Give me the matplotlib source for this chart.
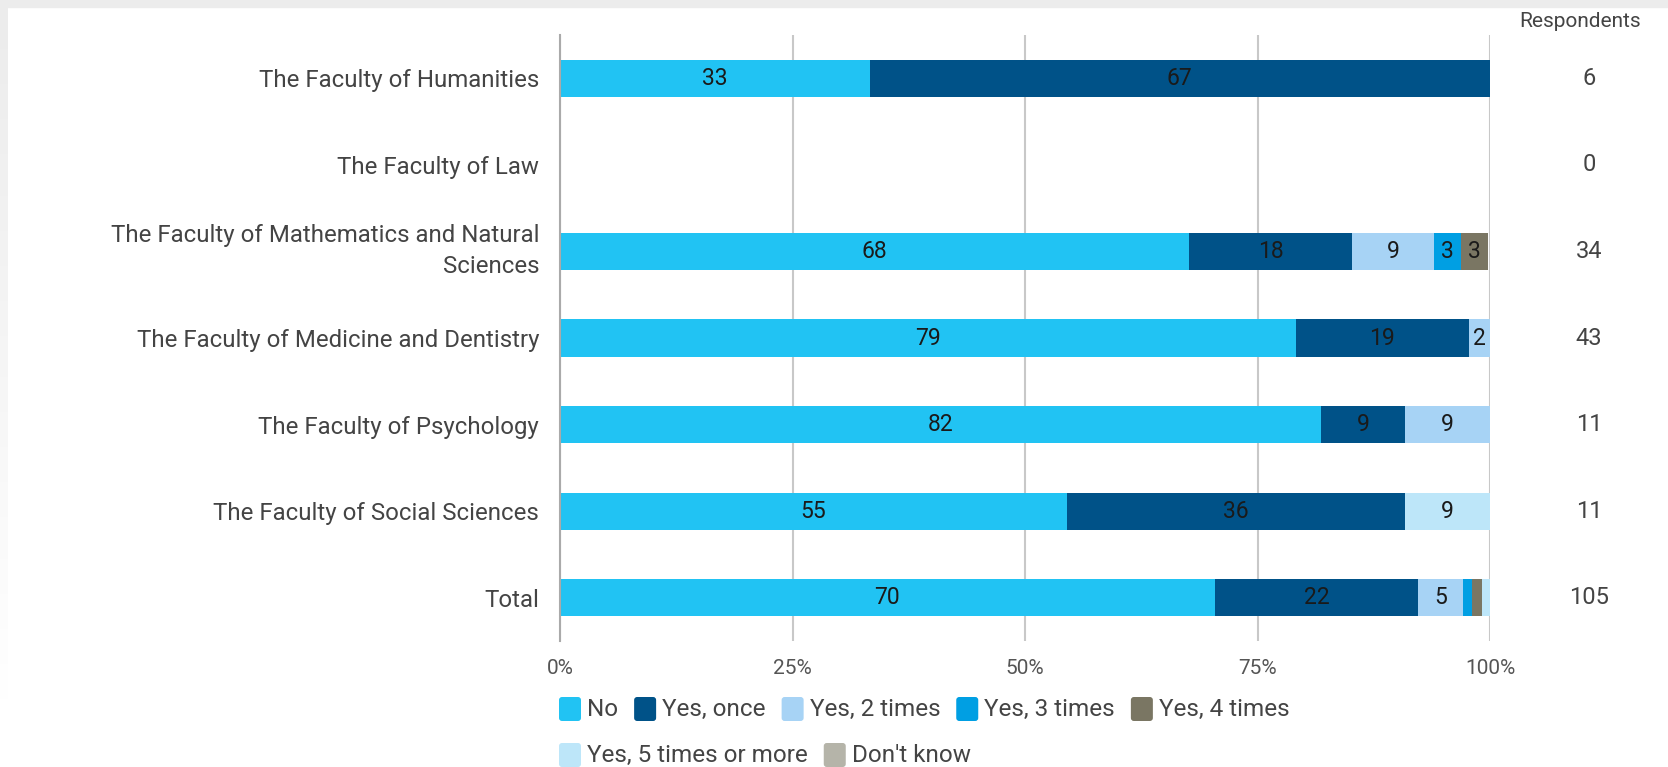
import matplotlib.pyplot as plt
import numpy as np
from matplotlib.patches import FancyBboxPatch
from matplotlib.transforms import IdentityTransform
from matplotlib.colors import LinearSegmentedColormap

plt.rcParams['font.family'] = ['Roboto', 'DejaVu Sans']

faculties = ["The Faculty of Humanities", "The Faculty of Law",
             "The Faculty of Mathematics and Natural\nSciences",
             "The Faculty of Medicine and Dentistry", "The Faculty of Psychology",
             "The Faculty of Social Sciences", "Total"]
respondents = [6, 0, 34, 43, 11, 11, 105]

answers = ["No", "Yes, once", "Yes, 2 times", "Yes, 3 times", "Yes, 4 times",
           "Yes, 5 times or more", "Don't know"]
colors = ["#21c3f3", "#005288", "#a7d3f5", "#009fe3", "#7a7663", "#bde6f9", "#b5b4a9"]

# percent of respondents per faculty, one list per answer
no_pct       = [33.3, 0, 67.6, 79.1, 81.8, 54.5, 70.4]
once_pct     = [66.7, 0, 17.6, 18.6, 9.1, 36.4, 21.9]
two_pct      = [0, 0, 8.8, 2.3, 9.1, 0, 4.8]
three_pct    = [0, 0, 2.9, 0, 0, 0, 1.0]
four_pct     = [0, 0, 2.9, 0, 0, 0, 1.0]
five_pct     = [0, 0, 0, 0, 0, 9.1, 1.0]
dontknow_pct = [0, 0, 0, 0, 0, 0, 0]

series = [no_pct, once_pct, two_pct, three_pct, four_pct, five_pct, dontknow_pct]

W, H = 1668, 767
fig = plt.figure(figsize=(W / 100, H / 100), dpi=100)
fig.patch.set_facecolor("white")

# grey frame at top and (fading) left edge
fig.patches.append(plt.Rectangle((0, 1 - 7 / H), 1, 7 / H, transform=fig.transFigure,
                                 color="#ececec", zorder=0))
strip = fig.add_axes([0, 0.08, 8 / W, 0.92 - 7 / H])
strip.imshow(np.linspace(0, 1, 100).reshape(-1, 1),
             cmap=LinearSegmentedColormap.from_list("g", ["#ececec", "#ffffff"]),
             aspect="auto", extent=[0, 1, 0, 1])
strip.axis("off")

ax = fig.add_axes([560 / W, 1 - 641 / H, 930 / W, 606 / H])
y = np.arange(len(faculties))
left = np.zeros(len(faculties))
for name, vals, col in zip(answers, series, colors):
    vals = np.array(vals, dtype=float)
    ax.barh(y, vals, left=left, height=0.43, color=col, label=name, zorder=2)
    for yi, (l, v) in enumerate(zip(left, vals)):
        if v >= 2:
            ax.text(l + v / 2, yi, f"{int(np.floor(v + 0.5))}", ha="center", va="center",
                    fontsize=16.5, color="#1a1a1a", zorder=3)
    left += vals

ax.set_xlim(0, 100)
ax.set_ylim(6.5, -0.5)
ax.set_yticks(y)
ax.set_yticklabels(faculties, fontsize=17.3, color="#444444")
ax.set_xticks([0, 25, 50, 75, 100])
ax.set_xticklabels(["0%", "25%", "50%", "75%", "100%"], fontsize=15, color="#555555")
ax.tick_params(axis="both", length=0)
ax.tick_params(axis="y", pad=15)
ax.tick_params(axis="x", pad=13)
for s in ["top", "right", "bottom"]:
    ax.spines[s].set_visible(False)
ax.spines["left"].set_color("#aaaaaa")
ax.spines["left"].set_linewidth(1.5)
ax.grid(axis="x", color="#c8c8c8", linewidth=1.5, zorder=0)
ax.set_axisbelow(True)
for lab in ax.get_yticklabels():
    lab.set_multialignment("right")
    if "\n" in lab.get_text():
        lab.set_linespacing(1.45)
        lab.set_verticalalignment("center")

ax.text(1.097, 1.023, "Respondents", transform=ax.transAxes, ha="center", va="center",
        fontsize=15, color="#444444")
for yi, n in zip(y, respondents):
    ax.text(1.1065, yi, str(n), transform=ax.get_yaxis_transform(), ha="center", va="center",
            fontsize=17, color="#444444")

# legend drawn by hand: two rows, rounded squares
renderer = fig.canvas.get_renderer()
rows = [(list(zip(answers[:5], colors[:5])), 709), (list(zip(answers[5:], colors[5:])), 755)]
for items, ypx in rows:
    x = 559
    for name, col in items:
        sq = FancyBboxPatch((x, H - ypx - 12), 22, 24, boxstyle="round,pad=0,rounding_size=3",
                            transform=IdentityTransform(), facecolor=col, edgecolor="none")
        fig.patches.append(sq)
        t = fig.text(x + 28, H - ypx, name, transform=IdentityTransform(), ha="left",
                     va="center", fontsize=17.5, color="#444444")
        x += 28 + t.get_window_extent(renderer).width + 16

fig.savefig("out.png", dpi=100, facecolor=fig.get_facecolor())
